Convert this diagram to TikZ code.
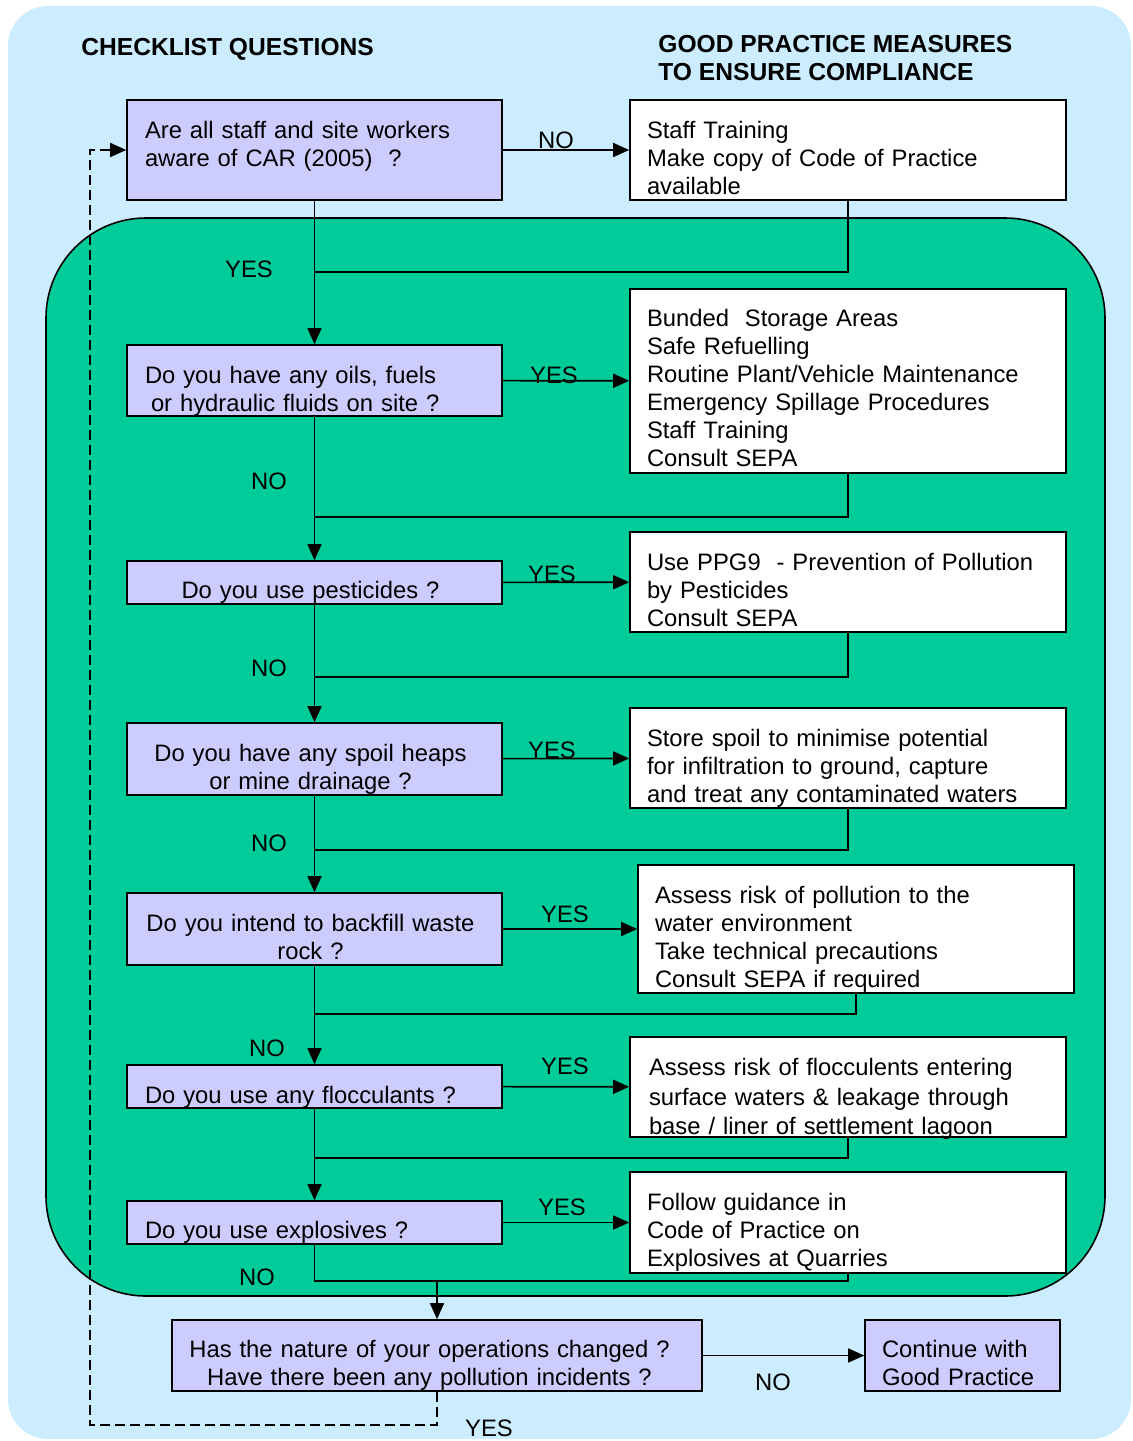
\documentclass[tikz,border=0pt]{standalone}
\usepackage{fontspec}
\setmainfont{Liberation Sans}
\usetikzlibrary{arrows.meta}
\definecolor{skyback}{HTML}{CCECFF}
\definecolor{greenback}{HTML}{00CC99}
\definecolor{lilac}{HTML}{CCCCFF}
\tikzset{
	qbox/.style={draw, fill=lilac, line width=0.8pt, minimum width=187.5pt, text width=169.5pt, inner xsep=9pt, inner ysep=2pt, align=center},
	wide/.style={inner xsep=5pt, text width=177.5pt},
	abox/.style={draw, fill=white, line width=0.8pt, text width=201pt, inner xsep=8.5pt, inner ysep=2pt, align=left},
	drop/.style={text height=#1pt, text depth=0pt},
	lift/.style={text height=0pt, text depth=#1pt},
	lab/.style={inner sep=0pt},
	flow/.style={line width=0.8pt},
	tip/.style={-{Triangle[length=8pt,width=7pt]}}
}
\newcommand{\nudge}[1]{\makebox[#1pt]{}}

\begin{document}
\begin{tikzpicture}[x=0.5pt, y=-0.5pt, font=\fontsize{11.9}{14}\selectfont]
		%%%%% START %%%%%
		\useasboundingbox (0,0) rectangle (1132,1441);
		\fill[skyback, rounded corners=20pt] (8,6) rectangle (1131,1439);
		\draw[fill=greenback, line width=0.8pt, rounded corners=50pt] (46,218) rectangle (1105,1296);
		
		\node[anchor=west, inner sep=0pt, font=\fontsize{12.3}{14}\bfseries] (hleft) at (81,49) {CHECKLIST QUESTIONS};
		\node[anchor=north west, align=left, inner sep=0pt, font=\fontsize{12.3}{14}\bfseries] (hright) at (658,35) {GOOD PRACTICE MEASURES\\TO ENSURE COMPLIANCE};
		
		% questions
		\node[qbox, lift=11.5, minimum height=50pt, align=left] (q1) at (314.5,150) {Are all staff and site workers\\aware of CAR (2005)~~?};
		\node[qbox, drop=3, minimum height=35.5pt, align=left] (q2) at (314.5,380.5) {Do you have any oils, fuels\\\nudge{3}or hydraulic fluids on site ?};
		\node[qbox, wide, drop=16, minimum height=21.5pt] (q3) at (314.5,582.5) {Do you use pesticides ?\nudge{4}};
		\node[qbox, wide, drop=2.5, minimum height=36pt] (q4) at (314.5,759) {Do you have any spoil heaps\nudge{4}\\or mine drainage ?\nudge{4}};
		\node[qbox, wide, drop=2.5, minimum height=36pt] (q5) at (314.5,929) {Do you intend to backfill waste\nudge{4}\\rock ?\nudge{4}};
		\node[qbox, drop=17, minimum height=21.5pt, align=left] (q6) at (314.5,1086.5) {Do you use any flocculants ?};
		\node[qbox, drop=16, minimum height=21.5pt, align=left] (q7) at (314.5,1222.5) {Do you use explosives ?};
		\node[qbox, drop=2, minimum height=35.5pt, minimum width=265pt, inner xsep=3pt, text width=259pt] (q8) at (437,1355.5) {Has the nature of your operations changed ?\nudge{7.5}\\Have there been any pollution incidents ?\nudge{7.5}};
		\node[qbox, drop=2, minimum height=35.5pt, minimum width=97.5pt, text width=80.5pt, inner xsep=8.5pt, align=left] (cont) at (962.5,1355.5) {Continue with\\Good Practice};
		
		% measures
		\node[abox, lift=11.5, minimum height=50pt] (a1) at (848,150) {Staff Training\\Make copy of Code of Practice\\available};
		\node[abox, lift=54.5, minimum height=92pt] (a2) at (848,381) {Bunded~ Storage Areas\\Safe Refuelling\\Routine Plant/Vehicle Maintenance\\Emergency Spillage Procedures\\Staff Training\\Consult SEPA};
		\node[abox, lift=11.5, minimum height=50pt] (a3) at (848,582) {Use PPG9~ - Prevention of Pollution\\by Pesticides\\Consult SEPA};
		\node[abox, lift=11.5, minimum height=50pt] (a4) at (848,758) {Store spoil to minimise potential\\for infiltration to ground, capture\\and treat any contaminated waters};
		\node[abox, lift=25.5, minimum height=64pt] (a5) at (856,929) {Assess risk of pollution to the\\water environment\\Take technical precautions\\Consult SEPA if required};
		\node[abox, lift=11.5, minimum height=50pt, inner xsep=9.5pt, text width=199pt, font=\fontsize{11.9}{14.8}\selectfont] (a6) at (848,1087) {Assess risk of flocculents entering\\surface waters \& leakage through\\base / liner of settlement lagoon};
		\node[abox, lift=12, minimum height=50.5pt] (a7) at (848,1222.5) {Follow guidance in\\Code of Practice on\\Explosives at Quarries};
		
		% junctions
		\coordinate (j1) at (314.5,272);
		\coordinate (j2) at (314.5,517);
		\coordinate (j3) at (314.5,677);
		\coordinate (j4) at (314.5,850);
		\coordinate (j5) at (314.5,1014);
		\coordinate (j6) at (314.5,1158);
		\coordinate (j7) at (314.5,1281);
		\coordinate (loop) at (90,1425);
		
		\draw[flow, tip] (q1) -- (a1);
		\draw[flow, tip] (q2) -- (a2);
		\draw[flow, tip] (q3) -- (a3);
		\draw[flow, tip] (q4) -- (a4);
		\draw[flow, tip] (q5) -- (a5);
		\draw[flow, tip] (q6) -- (a6);
		\draw[flow, tip] (q7) -- (a7);
		\draw[flow, tip] (q8) -- (cont);
		
		\draw[flow, tip] (q1) -- (q2);
		\draw[flow, tip] (q2) -- (q3);
		\draw[flow, tip] (q3) -- (q4);
		\draw[flow, tip] (q4) -- (q5);
		\draw[flow, tip] (q5) -- (q6);
		\draw[flow, tip] (q6) -- (q7);
		
		\draw[flow] (a1.south) |- (j1);
		\draw[flow] (a2.south) |- (j2);
		\draw[flow] (a3.south) |- (j3);
		\draw[flow] (a4.south) |- (j4);
		\draw[flow] (a5.south) |- (j5);
		\draw[flow] (a6.south) |- (j6);
		\draw[flow] (q7.south) -- (j7) -| (a7.south);
		\draw[flow, tip] (q8.north |- j7) -- (q8.north);
		\draw[flow, dash pattern=on 5pt off 2.5pt, tip] (q8.south) |- (loop) |- (q1.west);
		
		% labels
		\node[lab] (l1) at (556,140) {NO};
		\node[lab] (l2) at (249,269) {YES};
		\node[lab] (l3) at (554,375) {YES};
		\node[lab] (l4) at (269,481) {NO};
		\node[lab] (l5) at (552,574) {YES};
		\node[lab] (l6) at (269,668) {NO};
		\node[lab] (l7) at (552,750) {YES};
		\node[lab] (l8) at (269,843) {NO};
		\node[lab] (l9) at (565,914) {YES};
		\node[lab] (l10) at (267,1048) {NO};
		\node[lab] (l11) at (565,1066) {YES};
		\node[lab] (l12) at (562,1207) {YES};
		\node[lab] (l13) at (257,1277) {NO};
		\node[lab] (l14) at (773,1382) {NO};
		\node[lab] (l15) at (489,1428) {YES};
		%%%%% END %%%%%
\end{tikzpicture}
\end{document}
